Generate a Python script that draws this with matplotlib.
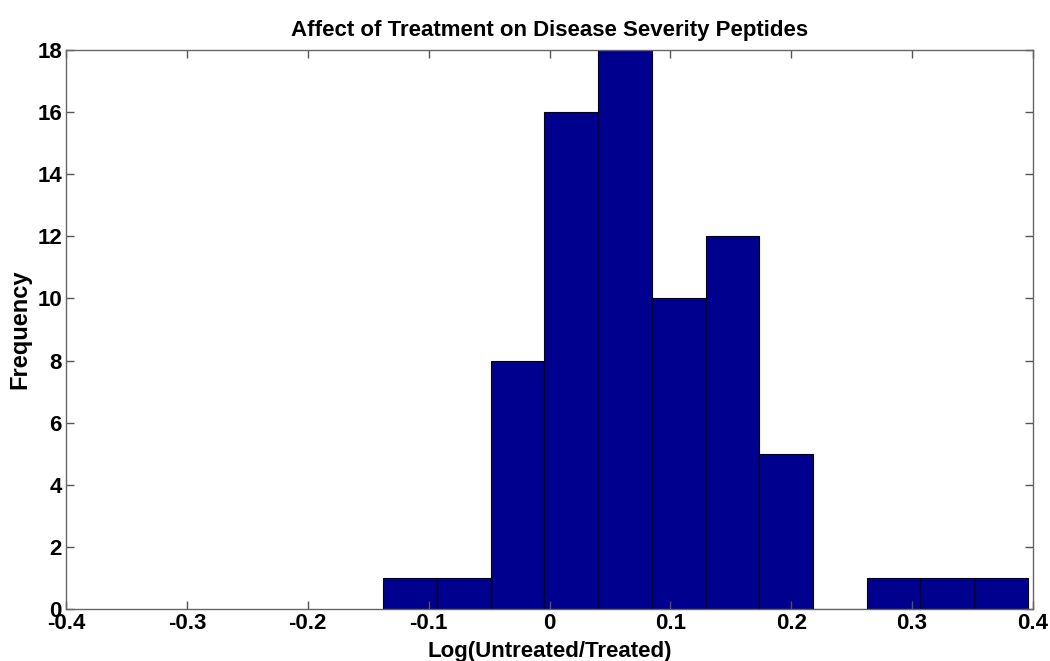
import matplotlib
matplotlib.use("Agg")
import matplotlib.pyplot as plt
import numpy as np

plt.rcParams['font.family'] = ['Liberation Sans', 'DejaVu Sans']
plt.rcParams['font.weight'] = 'bold'

bin_left = -0.1375
bin_width = 0.04443
counts = [1, 1, 8, 16, 18, 10, 12, 5, 0, 1, 1, 1]
xticks = [-0.4, -0.3, -0.2, -0.1, 0, 0.1, 0.2, 0.3, 0.4]
xticklabels = ['-0.4', '-0.3', '-0.2', '-0.1', '0', '0.1', '0.2', '0.3', '0.4']
yticks = [0, 2, 4, 6, 8, 10, 12, 14, 16, 18]

edges = bin_left + bin_width * np.arange(len(counts) + 1)

fig = plt.figure(figsize=(10.5, 6.61), dpi=100)
ax = fig.add_axes([0.0629, 0.0787, 0.9209, 0.8457])
ax.bar(edges[:-1], counts, width=bin_width, align='edge',
       color='#00008F', edgecolor='black', linewidth=0.8)
ax.set_xlim(-0.4, 0.4)
ax.set_ylim(0, 18)
ax.set_xticks(xticks)
ax.set_xticklabels(xticklabels)
ax.set_yticks(yticks)
ax.tick_params(direction='in', top=True, right=True, length=6, width=1,
               color='#555555', labelsize=16, pad=3)
for s in ax.spines.values():
    s.set_color('#666666')
    s.set_linewidth(1)
ax.set_xlabel('Log(Untreated/Treated)', fontsize=16, fontweight='bold', labelpad=5)
ax.set_ylabel('Frequency', fontsize=17, fontweight='bold', labelpad=4)
ax.set_title('Affect of Treatment on Disease Severity Peptides', fontsize=16,
             fontweight='bold', pad=10)
fig.savefig('out.png', dpi=100)
